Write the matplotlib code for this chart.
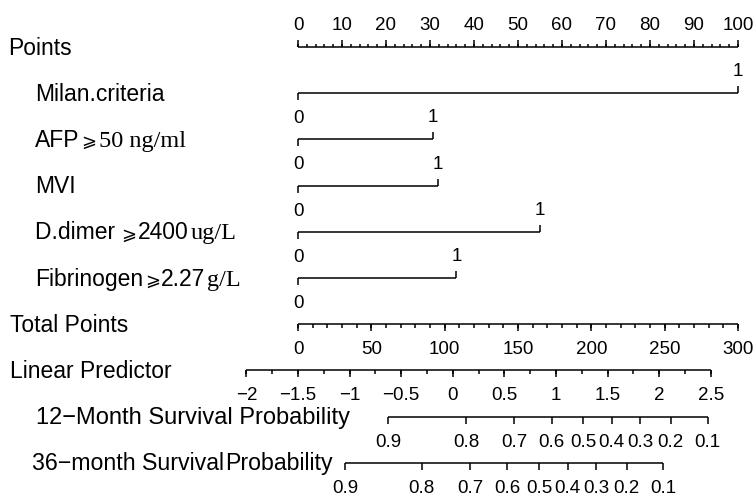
import numpy as np
import matplotlib
matplotlib.use("Agg")
import matplotlib.pyplot as plt
from matplotlib.transforms import blended_transform_factory

# ---- data ----
points_major = np.arange(0, 101, 10)
points_minor = np.arange(0, 101, 2)

# points given to level "1" of each predictor (level "0" = 0 points)
var_points = [100, 30.6, 31.8, 54.9, 36.0]
var_levels = ["0", "1"]

total_major = np.arange(0, 301, 50)
total_minor = np.arange(0, 301, 10)
total_per_point = 3.0            # 300 total points == 100 points

lp_major = np.arange(-2, 2.51, 0.5)
lp_minor = np.arange(-2, 2.51, 0.25)
lp_at_zero = -1.5                # linear predictor at 0 total points
points_per_lp = 23.45

surv_labels = ["0.9", "0.8", "0.7", "0.6", "0.5", "0.4", "0.3", "0.2", "0.1"]
surv12_lp = [-0.625, 0.128, 0.596, 0.959, 1.265, 1.540, 1.814, 2.112, 2.470]
surv36_lp = [-1.045, -0.301, 0.167, 0.528, 0.835, 1.114, 1.388, 1.685, 2.040]

SANS = "Liberation Sans"
SERIF = "Liberation Serif"
SYM = ["DejaVu Sans"]

# row labels, as pieces (text, family, size, gap before in px)
row_labels = [
    [("Points", SANS, 16.5, 0)],
    [("Milan.criteria", SANS, 16.5, 0)],
    [("AFP", SANS, 16.5, 0), ("⩾", SYM, 13, 2), ("50 ng/ml", SERIF, 17.5, 2)],
    [("MVI", SANS, 16.5, 0)],
    [("D.dimer ", SANS, 16.5, 0), ("⩾", SYM, 13, 0), ("2400", SANS, 16.5, 1), ("ug/L", SERIF, 17.5, 2)],
    [("Fibrinogen", SANS, 16.5, 0), ("⩾", SYM, 13, 2), ("2.27", SANS, 16.5, 1), ("g/L", SERIF, 17.5, 2)],
    [("Total Points", SANS, 16.5, 0)],
    [("Linear Predictor", SANS, 16.5, 0)],
    [("12−Month Survival Probability", SANS, 17, 0)],
    [("36−month Survival", SANS, 16.7, 0), ("Probability", SANS, 16.7, 1)],
]
label_x_px = [8, 35, 35, 35, 35, 35, 10, 10, 36, 32]

# ---- layout ----
W, H = 754, 498
X0, X100 = 298, 738              # pixel x of 0 and 100 points
ROW0, ROWSTEP = 47, 46.2          # pixel y of first axis line, row spacing
ppx = (X100 - X0) / 100.0

fig = plt.figure(figsize=(W / 100, H / 100), dpi=100)
ax = fig.add_axes([0, 0, 1, 1])
ax.set_xlim(-X0 / ppx, (W - X0) / ppx)
ax.set_ylim((H - ROW0) / ROWSTEP, -ROW0 / ROWSTEP)
ax.axis("off")

px = 1.0 / ROWSTEP
MAJ, MIN = 7 * px, 3.5 * px
ABOVE, BELOW = -17 * px, 30 * px   # baseline offsets for tick labels
LW = 1.1
TICKFS = 13.5
col = "black"


def hline(y, x1, x2):
    ax.plot([x1, x2], [y, y], color=col, lw=LW, solid_capstyle="butt")


def ticks(y, xs, length, up=False):
    sgn = -1 if up else 1
    ax.vlines(xs, y, y + sgn * length, color=col, lw=LW)


def tlabels(y, xs, labels, off):
    for x, s in zip(xs, labels):
        ax.text(x, y + off, s, ha="center", va="baseline", fontsize=TICKFS,
                family=SANS, color=col)


def lp_to_points(v):
    return (np.asarray(v) - lp_at_zero) * points_per_lp


# row 0: points
y = 0
hline(y, 0, 100)
ticks(y, points_minor, MIN, up=True)
ticks(y, points_major, MAJ, up=True)
tlabels(y, points_major, [str(v) for v in points_major], ABOVE)

# rows 1-5: predictors
for i, p in enumerate(var_points):
    y = i + 1
    hline(y, 0, p)
    ticks(y, [0], MAJ, up=False)
    ticks(y, [p], MAJ, up=True)
    tlabels(y, [0], [var_levels[0]], BELOW)
    tlabels(y, [p], [var_levels[1]], ABOVE)

# row 6: total points
y = 6
tp = total_major / total_per_point
hline(y, 0, 100)
ticks(y, total_minor / total_per_point, MIN)
ticks(y, tp, MAJ)
tlabels(y, tp, [str(v) for v in total_major], BELOW)

# row 7: linear predictor
y = 7
lpx = lp_to_points(lp_major)
hline(y, lpx[0], lpx[-1])
ticks(y, lp_to_points(lp_minor), MIN)
ticks(y, lpx, MAJ)
tlabels(y, lpx, [f"{v:g}".replace("-", "−") for v in lp_major], BELOW)

# rows 8-9: survival probabilities
for y, lps in [(8, surv12_lp), (9, surv36_lp)]:
    sx = lp_to_points(lps)
    hline(y, sx[0], sx[-1])
    ticks(y, sx, MAJ)
    tlabels(y, sx, surv_labels, BELOW)

# row labels with mixed fonts
fig.canvas.draw()
renderer = fig.canvas.get_renderer()
trans = blended_transform_factory(fig.transFigure, ax.transData)
for i, pieces in enumerate(row_labels):
    x = label_x_px[i]
    for s, fam, fs, gap in pieces:
        x += gap
        t = ax.text(x / W, i + 7.5 * px, s, transform=trans, ha="left",
                    va="baseline", fontsize=fs, family=fam, color=col)
        x = t.get_window_extent(renderer).x1

fig.savefig("out.png", dpi=100, facecolor="white")
